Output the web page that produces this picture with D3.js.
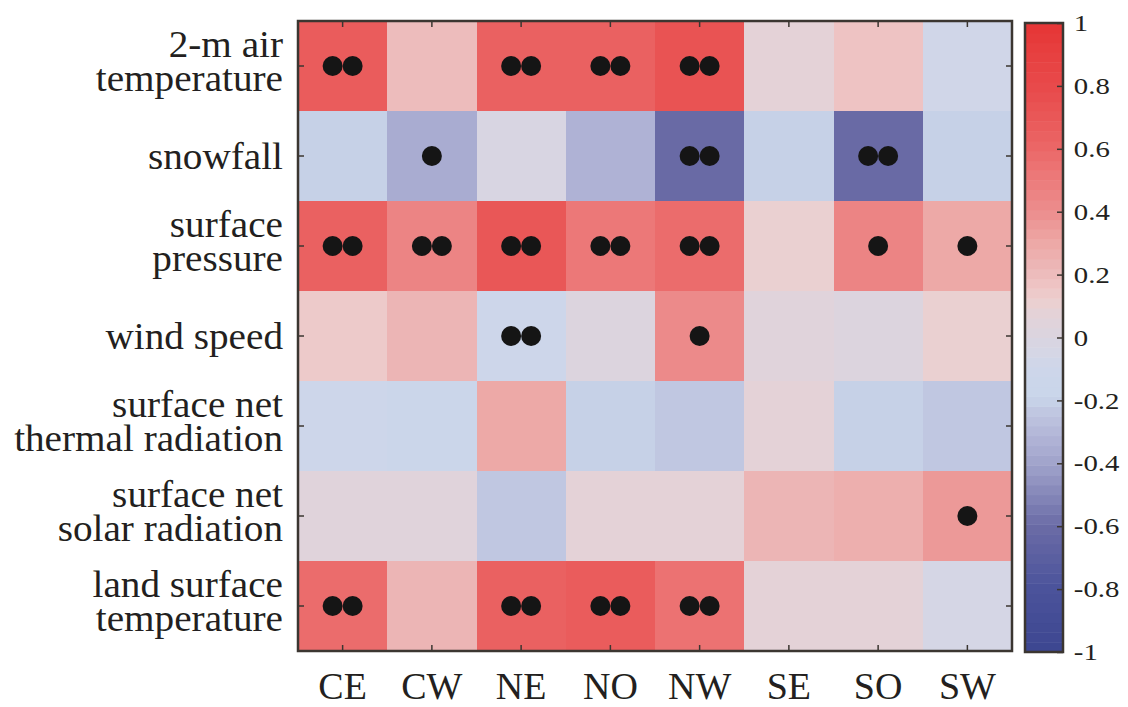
<!DOCTYPE html>
<html>
<head>
<meta http-equiv="Content-Type" content="text/html; charset=UTF-8">
<style>
body { margin: 0; background: #fff; }
text { font-family: "Liberation Serif", "Times New Roman", serif; fill: #231f20; }
.tick line { stroke: #3b3631; stroke-width: 1.5px; }
.domain { display: none; }
</style>
</head>
<body>
<svg width="1128" height="707"></svg>
<script src="https://cdn.jsdelivr.net/npm/d3@7"></script>
<script>

var regions = ["CE", "CW", "NE", "NO", "NW", "SE", "SO", "SW"];

var variables = [
    ["2-m air", "temperature"],
    ["snowfall"],
    ["surface", "pressure"],
    ["wind speed"],
    ["surface net", "thermal radiation"],
    ["surface net", "solar radiation"],
    ["land surface", "temperature"]
];

// correlation per variable (rows) and region (columns)
var corr = [
    [0.66, 0.20, 0.64, 0.64, 0.72, 0.07, 0.16, -0.07],
    [-0.19, -0.37, -0.03, -0.32, -0.60, -0.19, -0.60, -0.19],
    [0.63, 0.45, 0.70, 0.52, 0.58, 0.12, 0.45, 0.30],
    [0.15, 0.23, -0.10, 0.02, 0.43, 0.06, 0.00, 0.10],
    [-0.10, -0.15, 0.30, -0.19, -0.23, 0.07, -0.19, -0.23],
    [0.05, 0.06, -0.23, 0.08, 0.09, 0.22, 0.26, 0.37],
    [0.57, 0.23, 0.63, 0.68, 0.55, 0.09, 0.07, -0.05]
];

// significance markers: 0 none, 1 one dot, 2 two dots
var signif = [
    [2, 0, 2, 2, 2, 0, 0, 0],
    [0, 1, 0, 0, 2, 0, 2, 0],
    [2, 2, 2, 2, 2, 0, 1, 1],
    [0, 0, 2, 0, 1, 0, 0, 0],
    [0, 0, 0, 0, 0, 0, 0, 0],
    [0, 0, 0, 0, 0, 0, 0, 1],
    [2, 0, 2, 2, 2, 0, 0, 0]
];

var cbTicks = [1, 0.8, 0.6, 0.4, 0.2, 0, -0.2, -0.4, -0.6, -0.8, -1];

// colormap stops
var cmapValues = [-1, -0.8, -0.6, -0.4, -0.32, -0.22, -0.19, -0.1, -0.04, 0, 0.07, 0.12, 0.16, 0.22, 0.3, 0.4, 0.5, 0.6, 0.7, 0.8, 0.9, 1];
var cmapColors = ["#3c4690", "#4b539b", "#6a6ba6", "#a0a3cb", "#b1b4d6", "#c3cae3", "#c9d6ea", "#cdd6ea", "#d6d6e4", "#dad4e0",
                  "#e3d3d8", "#eccfcf", "#eec6c6", "#ecb8b8", "#eda8a6", "#ec8e8e", "#ec7b7b", "#eb6868", "#e95757",
                  "#e84a4b", "#e74040", "#e63535"];

var nLevels = 64;

var svg = d3.select("svg");

var x = d3.scaleBand().domain(regions).range([298, 1012]);
var y = d3.scaleBand().domain(d3.range(variables.length)).range([21, 651]);

var cmap = d3.scaleLinear().domain(cmapValues).range(cmapColors).clamp(true);

function levelColor(v) {
    var k = Math.floor((v + 1) / 2 * nLevels);
    k = Math.max(0, Math.min(nLevels - 1, k));
    return cmap(-1 + (k + 0.5) * 2 / nLevels);
}

// cells
var cells = [];
corr.forEach(function(row, i) {
    row.forEach(function(v, j) {
        cells.push({ row: i, col: regions[j], value: v, sig: signif[i][j] });
    });
});

svg.append("g").selectAll("rect")
    .data(cells)
  .enter().append("rect")
    .attr("x", function(d) { return x(d.col); })
    .attr("y", function(d) { return y(d.row); })
    .attr("width", x.bandwidth())
    .attr("height", y.bandwidth())
    .attr("shape-rendering", "crispEdges")
    .attr("fill", function(d) { return levelColor(d.value); });

// significance dots
var dots = [];
cells.forEach(function(d) {
    var cx = x(d.col) + x.bandwidth() / 2, cy = y(d.row) + y.bandwidth() / 2;
    if (d.sig === 1) dots.push([cx, cy]);
    if (d.sig === 2) { dots.push([cx - 10, cy]); dots.push([cx + 10, cy]); }
});

svg.append("g").selectAll("circle")
    .data(dots)
  .enter().append("circle")
    .attr("cx", function(d) { return d[0]; })
    .attr("cy", function(d) { return d[1]; })
    .attr("r", 10)
    .attr("fill", "#151515");

// axes with inner ticks
var gx = svg.append("g")
    .attr("transform", "translate(0,651)")
    .call(d3.axisBottom(x).tickSizeInner(-6).tickSizeOuter(0).tickPadding(21));
gx.selectAll("text")
    .style("font-size", "38px");

svg.append("g")
    .attr("transform", "translate(0,21)")
    .call(d3.axisTop(x).tickSizeInner(-6).tickSizeOuter(0).tickFormat(""));

svg.append("g")
    .attr("transform", "translate(298,0)")
    .call(d3.axisLeft(y).tickSizeInner(-6).tickSizeOuter(0).tickFormat(""));

svg.append("g")
    .attr("transform", "translate(1012,0)")
    .call(d3.axisRight(y).tickSizeInner(-6).tickSizeOuter(0).tickFormat(""));

svg.append("rect")
    .attr("x", 298).attr("y", 21)
    .attr("width", 1012 - 298).attr("height", 651 - 21)
    .attr("fill", "none")
    .attr("stroke", "#3b3631")
    .attr("stroke-width", 2.5);

// row labels
var lineGap = 34;
var labels = svg.append("g").selectAll("g")
    .data(variables)
  .enter().append("g")
    .attr("transform", function(d, i) {
        return "translate(283," + (y(i) + y.bandwidth() / 2) + ")";
    });

labels.append("text")
    .attr("text-anchor", "end")
    .attr("transform", "scale(1.06,1)")
    .style("font-size", "37px")
  .selectAll("tspan")
    .data(function(d) {
        return d.map(function(t, k) { return { t: t, k: k, n: d.length }; });
    })
  .enter().append("tspan")
    .attr("x", 0)
    .attr("y", function(d) { return d.n === 1 ? 0 : (d.k - 0.5) * lineGap - 5; })
    .attr("dy", "0.35em")
    .text(function(d) { return d.t; });

// colorbar
var cbX0 = 1025, cbX1 = 1063;
var cbY = d3.scaleLinear().domain([-1, 1]).range([652, 23]);

svg.append("g").selectAll("rect")
    .data(d3.range(nLevels))
  .enter().append("rect")
    .attr("x", cbX0)
    .attr("y", function(k) { return cbY(-1 + (k + 1) * 2 / nLevels); })
    .attr("width", cbX1 - cbX0)
    .attr("height", function(k) { return cbY(-1 + k * 2 / nLevels) - cbY(-1 + (k + 1) * 2 / nLevels) + 0.5; })
    .attr("fill", function(k) { return cmap(-1 + (k + 0.5) * 2 / nLevels); });

var gcb = svg.append("g")
    .attr("transform", "translate(" + cbX1 + ",0)")
    .call(d3.axisRight(cbY)
        .tickValues(cbTicks)
        .tickFormat(function(d) { return String(d); })
        .tickSizeInner(-6).tickSizeOuter(0).tickPadding(9));
gcb.selectAll("text")
    .style("font-size", "24px")
    .attr("transform", "scale(1.2,1)");

svg.append("rect")
    .attr("x", cbX0).attr("y", 23)
    .attr("width", cbX1 - cbX0).attr("height", 652 - 23)
    .attr("fill", "none")
    .attr("stroke", "#3b3631")
    .attr("stroke-width", 2.5);

</script>
</body></html>
